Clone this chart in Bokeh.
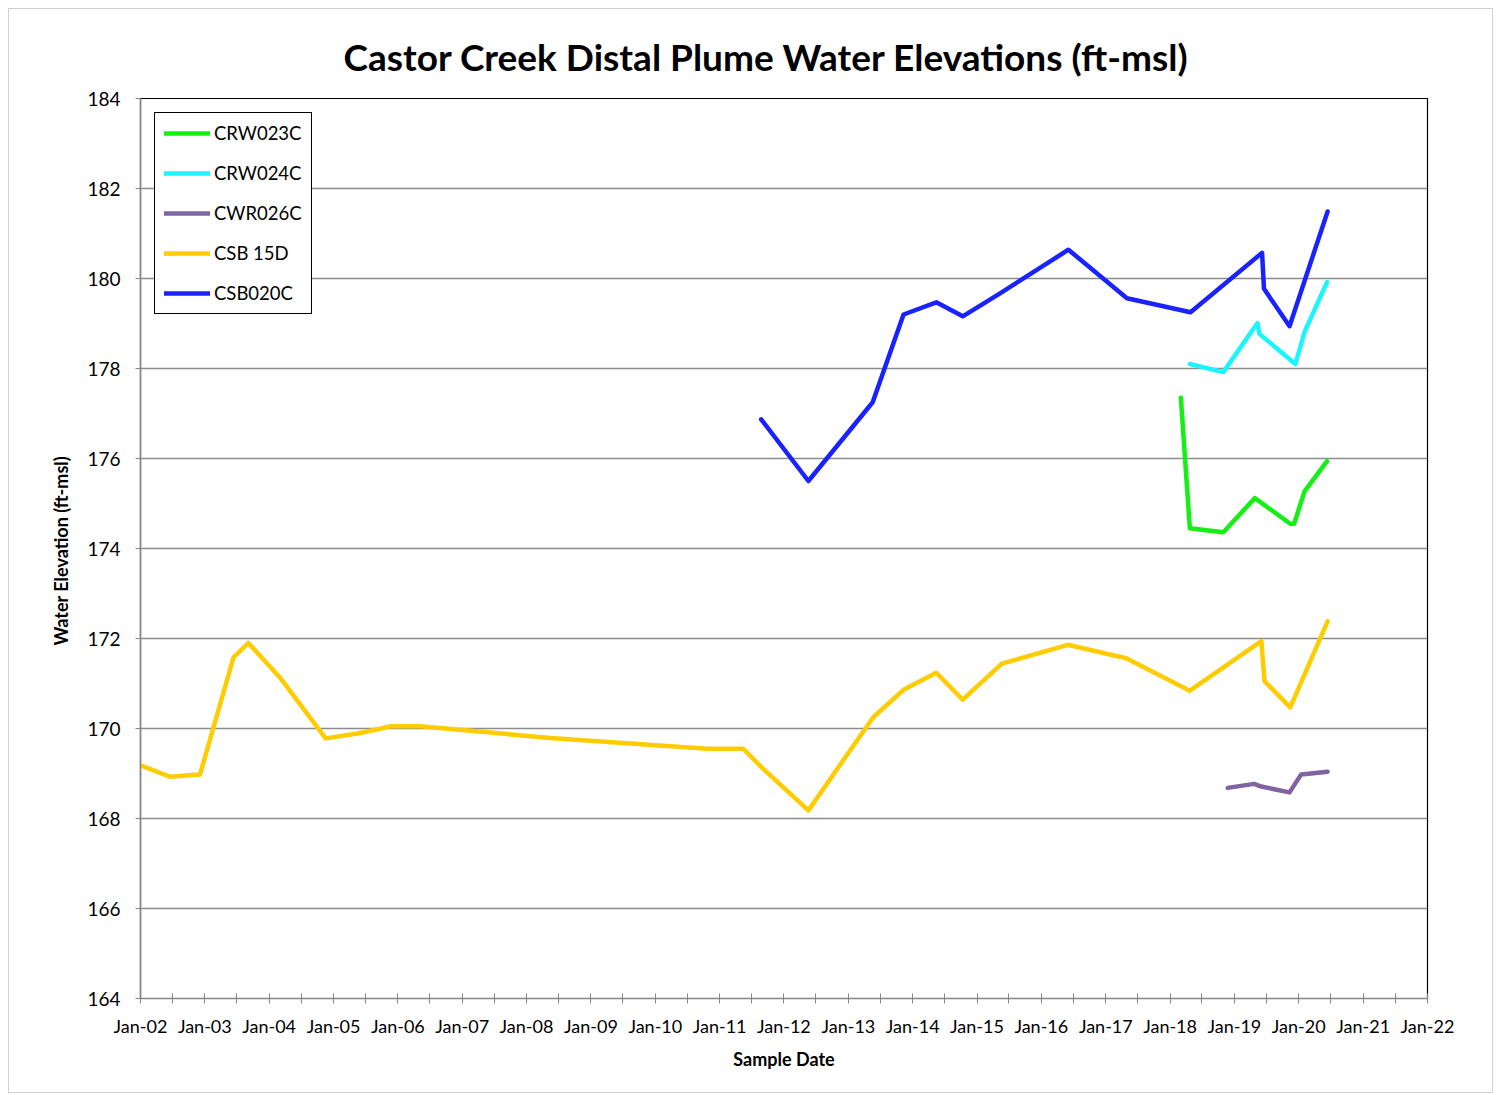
import pandas as pd
from bokeh.plotting import figure
from bokeh.models import FixedTicker, DatetimeTickFormatter, Legend, LegendItem, Range1d, SingleIntervalTicker
from bokeh.embed import file_html
from bokeh.resources import INLINE

# ---- data ----
csb15d_dates = ["2002-01-01", "2002-06-15", "2002-12-05", "2003-06-13", "2003-09-05", "2004-03-01",
                "2004-11-17", "2005-06-03", "2005-11-24", "2006-05-08", "2008-05-15", "2010-10-23",
                "2011-05-15", "2011-08-29", "2012-05-19", "2013-05-22", "2013-11-10", "2014-05-15",
                "2014-10-12", "2015-05-22", "2016-05-30", "2017-04-27", "2018-04-23", "2019-06-03",
                "2019-06-21", "2019-11-14", "2020-06-13"]
csb15d_vals = [169.18, 168.93, 168.98, 171.58, 171.90, 171.14, 169.78, 169.90, 170.05, 170.05, 169.79,
               169.55, 169.55, 169.13, 168.18, 170.25, 170.86, 171.24, 170.64, 171.44, 171.86, 171.56,
               170.84, 171.94, 171.05, 170.47, 172.38]

csb020c_dates = ["2011-08-25", "2012-05-19", "2013-05-19", "2013-11-10", "2014-05-15", "2014-10-12",
                 "2015-05-12", "2016-06-03", "2017-05-01", "2018-04-27", "2019-06-07", "2019-06-18",
                 "2019-11-10", "2020-06-13"]
csb020c_vals = [176.87, 175.50, 177.25, 179.20, 179.47, 179.16, 179.67, 180.64, 179.56, 179.25,
                180.57, 179.77, 178.94, 181.49]

crw024c_dates = ["2018-04-23", "2018-10-30", "2019-05-12", "2019-05-23", "2019-12-13", "2020-02-03", "2020-06-10"]
crw024c_vals = [178.10, 177.92, 179.01, 178.77, 178.10, 178.81, 179.92]

crw023c_dates = ["2018-03-03", "2018-04-23", "2018-10-30", "2019-04-27", "2019-11-14", "2019-12-06",
                 "2020-02-03", "2020-06-10"]
crw023c_vals = [177.35, 174.45, 174.36, 175.12, 174.55, 174.55, 175.27, 175.94]

cwr026c_dates = ["2018-11-24", "2019-04-23", "2019-06-03", "2019-11-10", "2020-01-15", "2020-06-13"]
cwr026c_vals = [168.68, 168.77, 168.71, 168.58, 168.98, 169.04]

series_names = ["CRW023C", "CRW024C", "CWR026C", "CSB 15D", "CSB020C"]
series_dates = [crw023c_dates, crw024c_dates, cwr026c_dates, csb15d_dates, csb020c_dates]
series_vals = [crw023c_vals, crw024c_vals, cwr026c_vals, csb15d_vals, csb020c_vals]
series_colors = ["#14f014", "#1cf4ff", "#8064a2", "#ffcc00", "#1a22ff"]

x_start, x_end = "2002-01-01", "2022-01-01"
y_min, y_max, y_step = 164, 184, 2

FONT = "Lato"

p = figure(width=1485, height=1085, x_axis_type="datetime", output_backend="svg",
           toolbar_location=None, min_border_left=131, min_border_right=67,
           min_border_top=89, min_border_bottom=96,
           x_range=Range1d(pd.Timestamp(x_start), pd.Timestamp(x_end)),
           y_range=Range1d(y_min, y_max))

p.title.text = "Castor Creek Distal Plume Water Elevations (ft-msl)"
p.title.align = "left"
p.title.offset = 203
p.title.text_font = FONT
p.title.text_font_size = "37px"
p.title.text_font_style = "bold"
p.title.text_color = "black"
p.title.text_line_height = 0.6
p.title.standoff = 40

years = pd.date_range(x_start, x_end, freq="YS")
halves = years[:-1] + pd.DateOffset(months=6)
ms = lambda d: d.value / 1e6
p.xaxis.ticker = FixedTicker(ticks=[ms(d) for d in years], minor_ticks=[ms(d) for d in halves])
p.xaxis.formatter = DatetimeTickFormatter(years="%b-%y", months="%b-%y", days="%b-%y",
                                          hours="%b-%y", minutes="%b-%y", seconds="%b-%y",
                                          milliseconds="%b-%y", microseconds="%b-%y",
                                          hourmin="%b-%y", minsec="%b-%y")
p.yaxis.ticker = SingleIntervalTicker(interval=y_step, num_minor_ticks=0)

for ax in (p.xaxis[0], p.yaxis[0]):
    ax.axis_line_color = "#868686"
    ax.axis_line_width = 1.5
    ax.major_tick_line_color = "#868686"
    ax.minor_tick_line_color = "#868686"
    ax.major_label_text_font = FONT
    ax.major_label_text_font_size = "18px"
    ax.major_label_text_color = "black"
    ax.axis_label_text_font = FONT
    ax.axis_label_text_font_size = "18px"
    ax.axis_label_text_font_style = "bold"
    ax.axis_label_text_color = "black"

p.yaxis.major_label_text_font_size = "19px"

p.xaxis.major_tick_in = 5
p.xaxis.major_tick_out = 5
p.xaxis.minor_tick_in = 5
p.xaxis.minor_tick_out = 5
p.xaxis.major_label_standoff = 11
p.xaxis.axis_label = "Sample Date"
p.xaxis.axis_label_standoff = 8

p.yaxis.major_tick_in = 0
p.yaxis.major_tick_out = 5
p.yaxis.minor_tick_line_color = None
p.yaxis.major_label_standoff = 15
p.yaxis.axis_label = "Water Elevation  (ft-msl)"
p.yaxis.axis_label_standoff = 12

p.xgrid.grid_line_color = None
p.ygrid.grid_line_color = "#8c8c8c"
p.ygrid.grid_line_width = 1.5
p.outline_line_color = "black"
p.outline_line_width = 1.2
p.outline_line_alpha = 1.0
p.background_fill_color = "white"
p.border_fill_color = "white"

items = []
for name, d, v, c in zip(series_names, series_dates, series_vals, series_colors):
    r = p.line(pd.to_datetime(d), v, line_color=c, line_width=4.5, line_join="round", line_cap="round")
    items.append(LegendItem(label=name, renderers=[r]))

legend = Legend(items=items, location="top_left", label_text_font=FONT,
                label_text_font_size="18.5px", label_text_color="black",
                border_line_color="black", border_line_width=1.2, border_line_alpha=1,
                glyph_width=46, glyph_height=20, label_height=20, spacing=18,
                padding=9, label_standoff=4, margin=14, background_fill_alpha=1)
p.add_layout(legend, "center")

p.styles = {"border": "1px solid #d0d0d0", "margin": "8px"}

open("out.html", "w").write(file_html(p, INLINE))
